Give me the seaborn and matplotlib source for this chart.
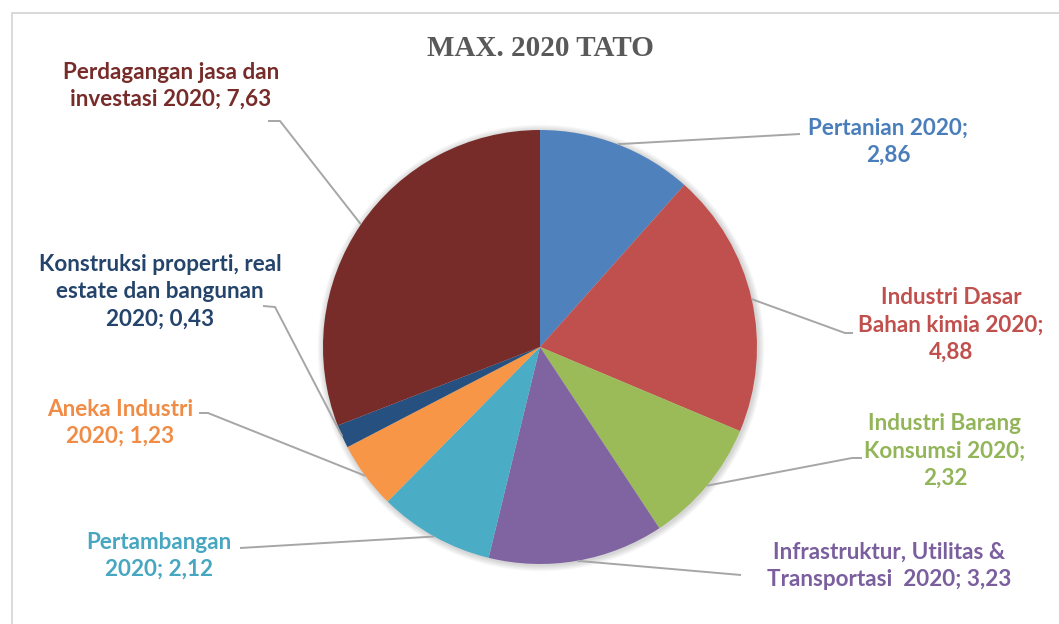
import matplotlib
matplotlib.use("Agg")
import matplotlib.pyplot as plt
import seaborn as sns
import numpy as np
from matplotlib.patches import Rectangle, Circle

# Sector data
categories = [
    "Pertanian", "Industri Dasar Bahan kimia", "Industri Barang Konsumsi",
    "Infrastruktur, Utilitas & Transportasi", "Pertambangan", "Aneka Industri",
    "Konstruksi properti, real estate dan bangunan", "Perdagangan jasa dan investasi",
]
values = [2.86, 4.88, 2.32, 3.23, 2.12, 1.23, 0.43, 7.63]
label_heads = [
    "Pertanian 2020;\n",
    "Industri Dasar\nBahan kimia 2020;\n",
    "Industri Barang\nKonsumsi 2020;\n",
    "Infrastruktur, Utilitas &\nTransportasi  2020; ",
    "Pertambangan\n2020; ",
    "Aneka Industri\n2020; ",
    "Konstruksi properti, real\nestate dan bangunan\n2020; ",
    "Perdagangan jasa dan\ninvestasi 2020; ",
]
slice_colors = ["#4F81BD", "#C0504D", "#9BBB59", "#8064A2",
                "#4BACC6", "#F79646", "#25507F", "#772C2A"]
text_colors = ["#4A7EBB", "#C0504D", "#93B55A", "#7A5E9E",
               "#47A6C0", "#F08C45", "#25446B", "#772C2A"]
title = "MAX. 2020 TATO"

W, H = 1059, 624
sns.set_theme(style="white")
plt.rcParams["font.family"] = ["Lato", "DejaVu Sans"]
palette = sns.color_palette(slice_colors)

fig = plt.figure(figsize=(W / 100, H / 100), dpi=100)
ax = fig.add_axes([0, 0, 1, 1])


def P(x, y):
    """Pixel position (origin top-left) to axes data coordinates."""
    return x, H - y


# chart frame
ax.add_patch(Rectangle(P(12, 640), 1080, 640 - 13, fill=False,
                       edgecolor="#D9D9D9", linewidth=1.4, zorder=0))

cx, cy = P(540, 347)
radius = 217

# soft shadow behind the pie
for i in range(7):
    ax.add_patch(Circle((cx + 1, cy - 1), radius + 1 + i * 0.9,
                        facecolor="#000000", alpha=0.025, edgecolor="none", zorder=1))

wedges, _ = ax.pie(values, colors=palette, startangle=90, counterclock=False,
                   center=(cx, cy), radius=radius, frame=True,
                   wedgeprops=dict(linewidth=0, zorder=2))
ax.set_xlim(0, W)
ax.set_ylim(0, H)
ax.set_aspect("equal")
ax.axis("off")

# label block centres and leader-line paths (pixels)
label_pos = [(888, 142), (951, 325), (945, 451), (889, 566),
             (159, 556), (120, 423), (160, 292), (171, 86)]
leader_paths = [
    [(800, 134)],
    [(845, 333), (853, 333)],
    [(852, 458), (862, 458)],
    [(741, 575)],
    [(240, 548)],
    [(208, 413), (199, 413)],
    [(275, 307), (263, 306)],
    [(280, 121), (268, 121)],
]

for w, val, head, tc, pos, path in zip(wedges, values, label_heads,
                                       text_colors, label_pos, leader_paths):
    mid = np.deg2rad((w.theta1 + w.theta2) / 2)
    sx = cx + radius * np.cos(mid)
    sy = cy + radius * np.sin(mid)
    xs = [sx] + [P(*p)[0] for p in path]
    ys = [sy] + [P(*p)[1] for p in path]
    ax.plot(xs, ys, color="#A6A6A6", linewidth=1.4, zorder=3,
            solid_capstyle="butt")
    txt = head + f"{val:.2f}".replace(".", ",")
    ax.text(*P(*pos), txt, ha="center", va="center", color=tc,
            fontsize=16.2, fontweight="bold", linespacing=1.36, zorder=4)

ax.text(*P(540, 48), title, ha="center", va="center", color="#595959",
        fontsize=21, fontweight="bold", family=["Liberation Serif"])

fig.savefig("out.png", dpi=100, facecolor="white")
